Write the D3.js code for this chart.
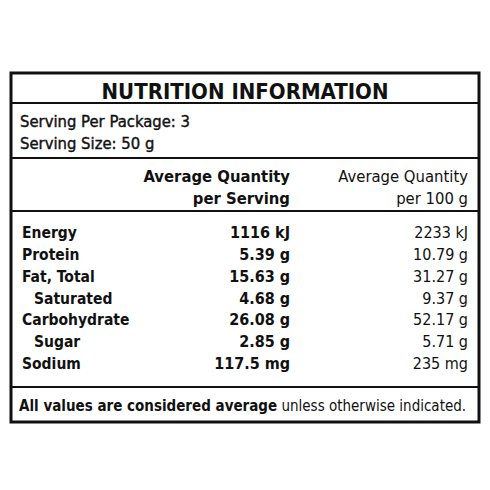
<!DOCTYPE html>
<html><head><meta charset="utf-8">
<script src="https://cdn.jsdelivr.net/npm/d3@7"></script>
<style>body{margin:0;background:#fff}</style>
</head><body>
<script>
// table contents
var nutrients = ["Energy", "Protein", "Fat, Total", "Saturated", "Carbohydrate", "Sugar", "Sodium"];
var indented = [false, false, false, true, false, true, false];
var perServing = ["1116 kJ", "5.39 g", "15.63 g", "4.68 g", "26.08 g", "2.85 g", "117.5 mg"];
var per100g = ["2233 kJ", "10.79 g", "31.27 g", "9.37 g", "52.17 g", "5.71 g", "235 mg"];
var servingInfo = ["Serving Per Package: 3", "Serving Size: 50 g"];

var font = "'DejaVu Sans Condensed', 'Liberation Sans Narrow', sans-serif";
var svg = d3.select("body").append("svg").attr("width", 490).attr("height", 490);

// outer box
svg.append("rect").attr("x", 11).attr("y", 73).attr("width", 468).attr("height", 349)
   .attr("fill", "none").attr("stroke", "#111").attr("stroke-width", 3);

// divider lines
[103, 158, 211, 387].forEach(function(y){
    svg.append("line").attr("x1", 11).attr("x2", 479).attr("y1", y).attr("y2", y)
       .attr("stroke", "#111").attr("stroke-width", 2);
});

svg.append("text").attr("x", 245).attr("y", 99).attr("text-anchor", "middle")
   .attr("font-family", font).attr("font-weight", "bold").attr("font-size", 22)
   .attr("fill", "#111").text("NUTRITION INFORMATION");

svg.selectAll(".serv").data(servingInfo).enter().append("text")
   .attr("x", 20).attr("y", function(d, i){ return 127 + i * 22; })
   .attr("font-family", font).attr("font-size", 16.5).attr("stroke", "#111").attr("stroke-width", 0.4)
   .attr("fill", "#111").text(function(d){ return d; });

// column headers
var hdr = [["Average Quantity", "per Serving", 290, "bold"], ["Average Quantity", "per 100 g", 468, "normal"]];
hdr.forEach(function(h){
    [h[0], h[1]].forEach(function(t, i){
        svg.append("text").attr("x", h[2]).attr("y", 182 + i * 22).attr("text-anchor", "end")
           .attr("font-family", font).attr("font-weight", h[3]).attr("font-size", 16.5)
           .attr("fill", "#111").text(t);
    });
});

var y = d3.scalePoint().domain(nutrients).range([238, 369]);
var rows = svg.selectAll(".row").data(nutrients).enter().append("g");
rows.append("text").attr("x", function(d, i){ return indented[i] ? 34 : 22; })
    .attr("y", function(d){ return y(d); })
    .attr("font-family", font).attr("font-weight", "bold").attr("font-size", 15.5)
    .attr("fill", "#111").text(function(d){ return d; });
rows.append("text").attr("x", 290).attr("y", function(d){ return y(d); }).attr("text-anchor", "end")
    .attr("font-family", font).attr("font-weight", "bold").attr("font-size", 16)
    .attr("fill", "#111").text(function(d, i){ return perServing[i]; });
rows.append("text").attr("x", 468).attr("y", function(d){ return y(d); }).attr("text-anchor", "end")
    .attr("font-family", font).attr("font-size", 16)
    .attr("fill", "#111").text(function(d, i){ return per100g[i]; });

var foot = svg.append("text").attr("x", 19).attr("y", 411)
   .attr("font-family", font).attr("font-size", 15).attr("fill", "#111");
foot.append("tspan").attr("font-weight", "bold").text("All values are considered average");
foot.append("tspan").text(" unless otherwise indicated.");
</script>
</body></html>
